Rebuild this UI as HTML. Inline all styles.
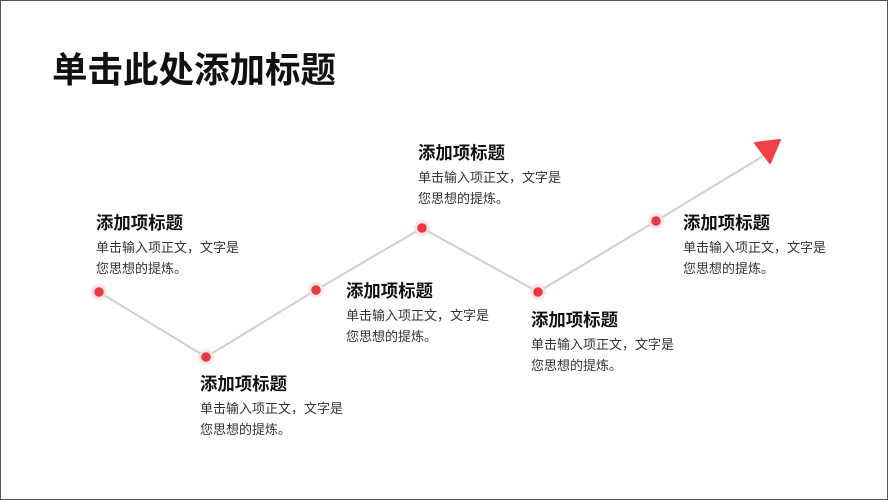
<!DOCTYPE html>
<html><head><meta charset="utf-8"><style>
body{margin:0;width:888px;height:500px;overflow:hidden;background:#fff;font-family:"Liberation Sans","Noto Sans CJK SC",sans-serif;}
.frame{position:absolute;left:0;top:0;width:886px;height:498px;border:1px solid #555;}
h1{position:absolute;left:52px;top:48px;margin:0;font-size:35.5px;font-weight:bold;color:#111;line-height:44px;}
.b{position:absolute;}
.b .t{font-size:17.4px;font-weight:bold;color:#111;line-height:22px;}
.b .d{font-size:13px;color:#333;line-height:21px;margin-top:3px;}
</style></head><body>
<div class="frame"></div>
<h1>单击此处添加标题</h1>
<svg width="888" height="500" style="position:absolute;left:0;top:0">
<defs><filter id="s" x="-50%" y="-50%" width="200%" height="200%"><feDropShadow dx="0" dy="0" stdDeviation="1" flood-color="#e99" flood-opacity="0.5"/></filter></defs>
<polyline points="99,292 206,357 316,290 422,228 538,292 656,221 765,155" fill="none" stroke="#cfcfcf" stroke-width="2"/>
<polygon points="755,143 780,140 770,163" fill="#f04046" stroke="#f04046" stroke-width="2" stroke-linejoin="round"/>
<g fill="#e8383f" stroke="#fbe4e4" stroke-width="2.5" filter="url(#s)">
<circle cx="99" cy="292" r="6"/><circle cx="206" cy="357" r="6"/><circle cx="316" cy="290" r="6"/>
<circle cx="422" cy="228" r="6"/><circle cx="538" cy="292" r="6"/><circle cx="656" cy="221" r="6"/>
</g></svg>
<div class="b" style="left:96px;top:212px"><div class="t">添加项标题</div><div class="d">单击输入项正文，文字是<br>您思想的提炼。</div></div>
<div class="b" style="left:200px;top:373px"><div class="t">添加项标题</div><div class="d">单击输入项正文，文字是<br>您思想的提炼。</div></div>
<div class="b" style="left:346px;top:280px"><div class="t">添加项标题</div><div class="d">单击输入项正文，文字是<br>您思想的提炼。</div></div>
<div class="b" style="left:418px;top:142px"><div class="t">添加项标题</div><div class="d">单击输入项正文，文字是<br>您思想的提炼。</div></div>
<div class="b" style="left:531px;top:309px"><div class="t">添加项标题</div><div class="d">单击输入项正文，文字是<br>您思想的提炼。</div></div>
<div class="b" style="left:683px;top:212px"><div class="t">添加项标题</div><div class="d">单击输入项正文，文字是<br>您思想的提炼。</div></div>
</body></html>
